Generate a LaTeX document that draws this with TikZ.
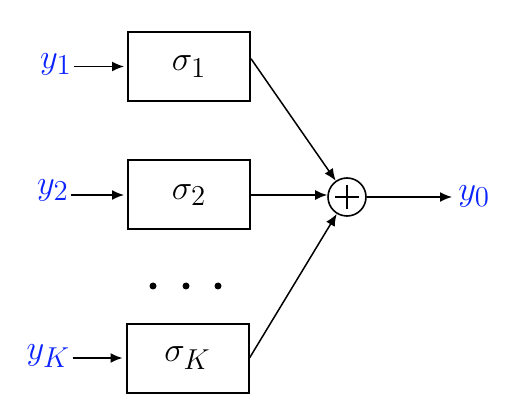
\documentclass[tikz,border=0pt]{standalone}
\usetikzlibrary{arrows.meta,calc}
\definecolor{bleuy}{RGB}{10,35,255}
\tikzset{
  boite/.style={draw, line width=1pt, minimum width=61pt, minimum height=34.5pt, inner sep=0pt, font=\fontsize{19}{21}\selectfont},
  entree/.style={text=bleuy, inner sep=1pt, font=\fontsize{19}{21}\selectfont},
  somme/.style={draw, circle, line width=0.8pt, minimum size=19pt, inner sep=0pt},
  fleche/.style={-{Latex[length=6pt,width=5pt]}, line width=0.75pt},
}
\begin{document}
\begin{tikzpicture}[x=0.5pt, y=-0.5pt]
    \useasboundingbox (0,0) rectangle (512,410);
    %boites
    \node[boite] (s1) at (189,66.5) {$\sigma_1$};
    \node[boite] (s2) at (189,195) {$\sigma_2$};
    \node[boite] (sK) at (187.5,358) {$\sigma_K$};
    %entrees
    \node[entree] (y1) at (56,64) {$y_1$};
    \node[entree] (y2) at (53,190) {$y_2$};
    \node[entree] (yK) at (48.5,356) {$y_K$};
    %sommateur
    \node[somme] (add) at (347,197) {};
    \draw[line width=0.75pt, shorten >=4pt, shorten <=4pt] (add.north) -- (add.south);
    \draw[line width=0.75pt, shorten >=4pt, shorten <=4pt] (add.west) -- (add.east);
    %sortie
    \node[entree, anchor=west] (y0) at (456,196) {$y_0$};
    %fleches
    \draw[fleche, shorten >=1.5pt] (y1.east |- s1) -- (s1.west);
    \draw[fleche, shorten >=1.5pt] (y2.east |- s2) -- (s2.west);
    \draw[fleche, shorten >=1.5pt] (yK.east |- sK) -- (sK.west);
    \draw[fleche] ($(s1.north east)!0.39!(s1.south east)$) -- (add);
    \draw[fleche] (s2.east) -- (s2.east -| add.west);
    \draw[fleche] (sK.east) -- (add);
    \draw[fleche, shorten >=2pt] (add.east) -- (y0.west |- add);
    %points
    \foreach \x in {153,186,218}
      \fill (\x,286) circle (1.75pt);
\end{tikzpicture}
\end{document}
